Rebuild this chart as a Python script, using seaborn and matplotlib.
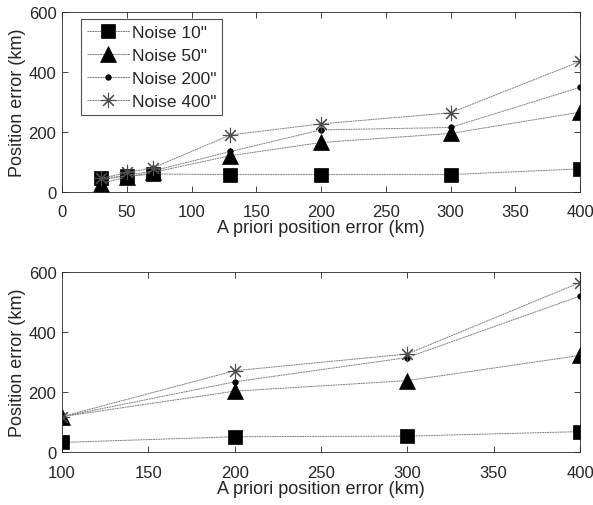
import matplotlib
matplotlib.use("Agg")
import matplotlib.pyplot as plt
import seaborn as sns
import pandas as pd

sns.set_theme(style="white")
plt.rcParams["font.family"] = ["Liberation Sans", "DejaVu Sans"]

# Upper panel: a priori error 30..400 km
x_top = [30, 50, 70, 130, 200, 300, 400]
top_n10 = [48, 52, 60, 58, 58, 58, 77]
top_n50 = [28, 50, 65, 121, 165, 195, 266]
top_n200 = [40, 55, 70, 135, 207, 215, 349]
top_n400 = [45, 65, 80, 190, 227, 264, 435]

# Lower panel: a priori error 100..400 km
x_bot = [100, 200, 300, 400]
bot_n10 = [32, 51, 53, 68]
bot_n50 = [118, 203, 238, 322]
bot_n200 = [118, 234, 315, 520]
bot_n400 = [118, 271, 327, 565]

labels = ['Noise 10"', 'Noise 50"', 'Noise 200"', 'Noise 400"']
markers = ["s", "^", "o", (8, 2, 0)]
msizes = [10, 11, 4, 11]

fig = plt.figure(figsize=(5.93, 5.06), dpi=100)
ax1 = fig.add_axes([0.1046, 0.6186, 0.8735, 0.3557])
ax2 = fig.add_axes([0.1046, 0.1047, 0.8735, 0.3557])


def draw(ax, x, series):
    for lab, ys, mk, ms in zip(labels, series, markers, msizes):
        df = pd.DataFrame({"x": x, "y": ys})
        star = isinstance(mk, tuple)
        sns.lineplot(data=df, x="x", y="y", ax=ax, label=lab,
                     color="0.5", linewidth=0.7, linestyle=(0, (2, 0.6)),
                     marker=mk, markersize=ms,
                     markerfacecolor="black",
                     markeredgecolor="0.3" if star else "black",
                     markeredgewidth=0.8 if star else 0.5, legend=False)


draw(ax1, x_top, [top_n10, top_n50, top_n200, top_n400])
draw(ax2, x_bot, [bot_n10, bot_n50, bot_n200, bot_n400])

ax1.set_xlim(0, 400)
ax1.set_xticks(range(0, 401, 50))
ax2.set_xlim(100, 400)
ax2.set_xticks(range(100, 401, 50))

for ax in (ax1, ax2):
    ax.set_ylim(0, 600)
    ax.set_yticks([0, 200, 400, 600])
    ax.set_xlabel("A priori position error (km)", fontsize=13, color="#262626", labelpad=0)
    ax.set_ylabel("Position error (km)", fontsize=13, color="#262626", labelpad=2)
    ax.tick_params(direction="in", length=4, width=0.6, top=True, right=True,
                   bottom=True, left=True, labelsize=12, labelcolor="#262626",
                   colors="#262626")
    ax.tick_params(axis="x", pad=9)
    ax.tick_params(axis="y", pad=4)
    ax.tick_params(labeltop=False, labelright=False)
    for s in ax.spines.values():
        s.set_color("#262626")
        s.set_linewidth(0.6)
    ax.set_facecolor("white")

leg = ax1.legend(loc="upper left", bbox_to_anchor=(0.036, 0.962), fontsize=12.5,
                 frameon=True, fancybox=False, borderpad=0.35, labelspacing=0.45,
                 handlelength=2.5, handletextpad=0.1, borderaxespad=0)
leg.get_frame().set_edgecolor("#262626")
leg.get_frame().set_linewidth(0.8)

fig.savefig("out.png", dpi=100, facecolor="white")
